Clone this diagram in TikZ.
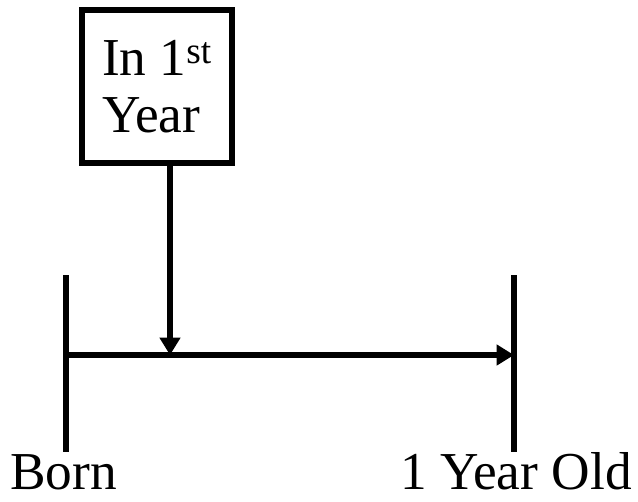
\documentclass[tikz,border=0pt]{standalone}
\usepackage{fontspec}
\setmainfont{Liberation Serif}
\usetikzlibrary{arrows.meta}
\begin{document}
\begin{tikzpicture}[x=0.75pt,y=-0.75pt,
  thick line/.style={line width=4pt},
  arr/.style={thick line,-{Triangle[length=13pt,width=15pt]}},
  lbl/.style={font=\fontsize{40}{44}\selectfont,inner sep=0pt}]
\useasboundingbox (0,0) rectangle (638,501);
\node[draw,thick line,minimum width=150*0.75pt,minimum height=153*0.75pt,
      inner sep=0pt,align=left,
      font=\fontsize{40}{43}\selectfont] (box) at (157,86.5)
      {In 1\textsuperscript{st}\\Year};
\coordinate (lt) at (66,275);
\coordinate (lb) at (66,452);
\coordinate (rt) at (514,275);
\coordinate (rb) at (514,452);
\coordinate (ls) at (66,355);
\coordinate (re) at (514,355);
\coordinate (hit) at (170,355);
\draw[thick line] (lt) -- (lb);
\draw[thick line] (rt) -- (rb);
\draw[arr] (ls) -- (re);
\draw[arr] (box.south -| hit) -- (hit);
\node[lbl,anchor=base west] (born) at (10,489) {Born};
\node[lbl,anchor=base east] (old) at (632,489) {1 Year Old};
\end{tikzpicture}
\end{document}
